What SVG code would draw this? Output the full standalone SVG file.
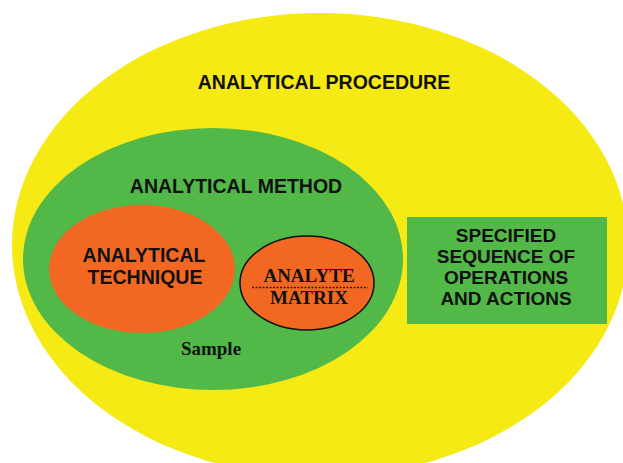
<svg xmlns="http://www.w3.org/2000/svg" width="623" height="463" viewBox="0 0 623 463">
<style>
.sans{font-family:"Liberation Sans",Arial,sans-serif;font-weight:bold;fill:#111;text-anchor:middle}
.serif{font-family:"Liberation Serif","Times New Roman",serif;font-weight:bold;fill:#111;text-anchor:middle}
</style>
<rect width="623" height="463" fill="#fff"/>
<g id="procedure">
<ellipse cx="320" cy="245" rx="308" ry="232" fill="#F5EA14"/>
<text class="sans" x="324" y="89" font-size="19.5">ANALYTICAL PROCEDURE</text>
</g>
<g id="method">
<ellipse cx="213" cy="259" rx="190" ry="131" fill="#52B848"/>
<text class="sans" x="236" y="193" font-size="19.5">ANALYTICAL METHOD</text>
<text class="serif" x="211" y="355" font-size="19">Sample</text>
</g>
<g id="technique">
<ellipse cx="142" cy="269" rx="93" ry="64" fill="#F26822"/>
<text class="sans" x="144" y="262" font-size="19.5">ANALYTICAL</text>
<text class="sans" x="145" y="284" font-size="19.5">TECHNIQUE</text>
</g>
<g id="analyte">
<ellipse cx="307" cy="283" rx="67" ry="47" fill="#F26822" stroke="#111" stroke-width="1.5"/>
<text class="serif" x="309" y="282" font-size="19">ANALYTE</text>
<line x1="252" y1="287.5" x2="368" y2="287.5" stroke="#222" stroke-width="1.5" stroke-dasharray="2 1.5"/>
<text class="serif" x="309" y="304" font-size="19">MATRIX</text>
</g>
<g id="sequence">
<rect x="407" y="217" width="200" height="107" fill="#52B848"/>
<text class="sans" x="506" y="242" font-size="19">SPECIFIED</text>
<text class="sans" x="506" y="263" font-size="19">SEQUENCE OF</text>
<text class="sans" x="506" y="284" font-size="19">OPERATIONS</text>
<text class="sans" x="506" y="305" font-size="19">AND ACTIONS</text>
</g>
<g id="connectors"></g>
</svg>
